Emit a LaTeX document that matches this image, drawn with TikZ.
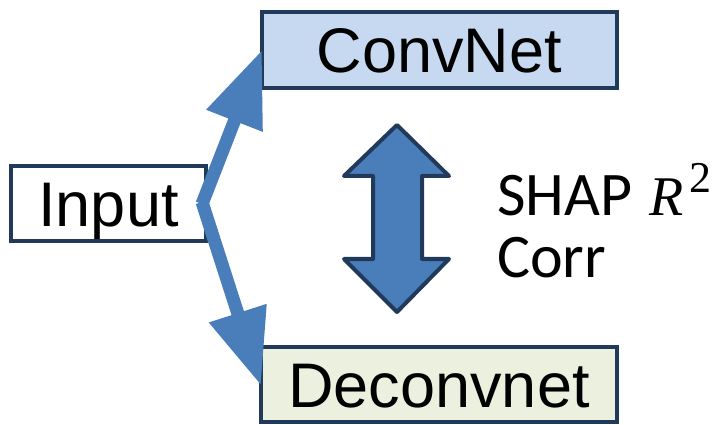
\documentclass[tikz,border=0pt]{standalone}
\usepackage{fontspec}
\setmainfont{Liberation Sans}
\newfontfamily\calib{Carlito}
\newfontfamily\lserif{Liberation Serif}
\usetikzlibrary{arrows.meta}
\definecolor{edge}{HTML}{213A5A}
\definecolor{convfill}{HTML}{C6D9F1}
\definecolor{deconvfill}{HTML}{EBF1DE}
\definecolor{arrowblue}{HTML}{4A7EBB}
\tikzset{
  box/.style={draw=edge, line width=4pt, inner sep=0pt, outer sep=0pt,
    font=\fontsize{63}{63}\selectfont, text height=45pt, text depth=0pt},
  flow/.style={draw=arrowblue, line width=13pt,
    -{Triangle[length=76pt,width=57pt]}},
  sidetext/.style={font=\calib\fontsize{62}{62}\selectfont, inner sep=0pt, anchor=base west}
}
\begin{document}
\begin{tikzpicture}[x=1pt,y=-1pt]
\useasboundingbox (0,0) rectangle (721,425);
\node[box, fill=white, minimum width=195pt, minimum height=75pt] (in) at (108.5,203.5) {Input};
\node[box, fill=convfill, minimum width=355pt, minimum height=76pt] (conv) at (439.5,50) {ConvNet};
\node[box, fill=deconvfill, minimum width=356pt, minimum height=75pt] (deconv) at (439,384.5) {Deconvnet};
\coordinate (s1) at ([xshift=-4pt,yshift=-0.5pt]in.east);
\coordinate (s2) at ([xshift=-4pt,yshift=1.5pt]in.east);
\draw[flow] (s1) -- (conv.west);
\draw[flow] (s2) -- ([yshift=-1pt]deconv.west);
% double arrow
\draw[draw=edge, fill=arrowblue, line width=4pt, line join=round]
  (397,125) -- (449,176) -- (422,176) -- (422,259) -- (449,259) -- (397,312)
  -- (344,259) -- (373,259) -- (373,176) -- (344,176) -- cycle;
\node[sidetext] (shap) at (497,215) {SHAP\hspace{0.05em} {\lserif\fontsize{56}{56}\selectfont\itshape R}\hspace{0.1em}\raisebox{23pt}{\lserif\fontsize{44}{44}\selectfont 2}};
\node[sidetext] (corr) at (497,277) {Corr};
\end{tikzpicture}
\end{document}
